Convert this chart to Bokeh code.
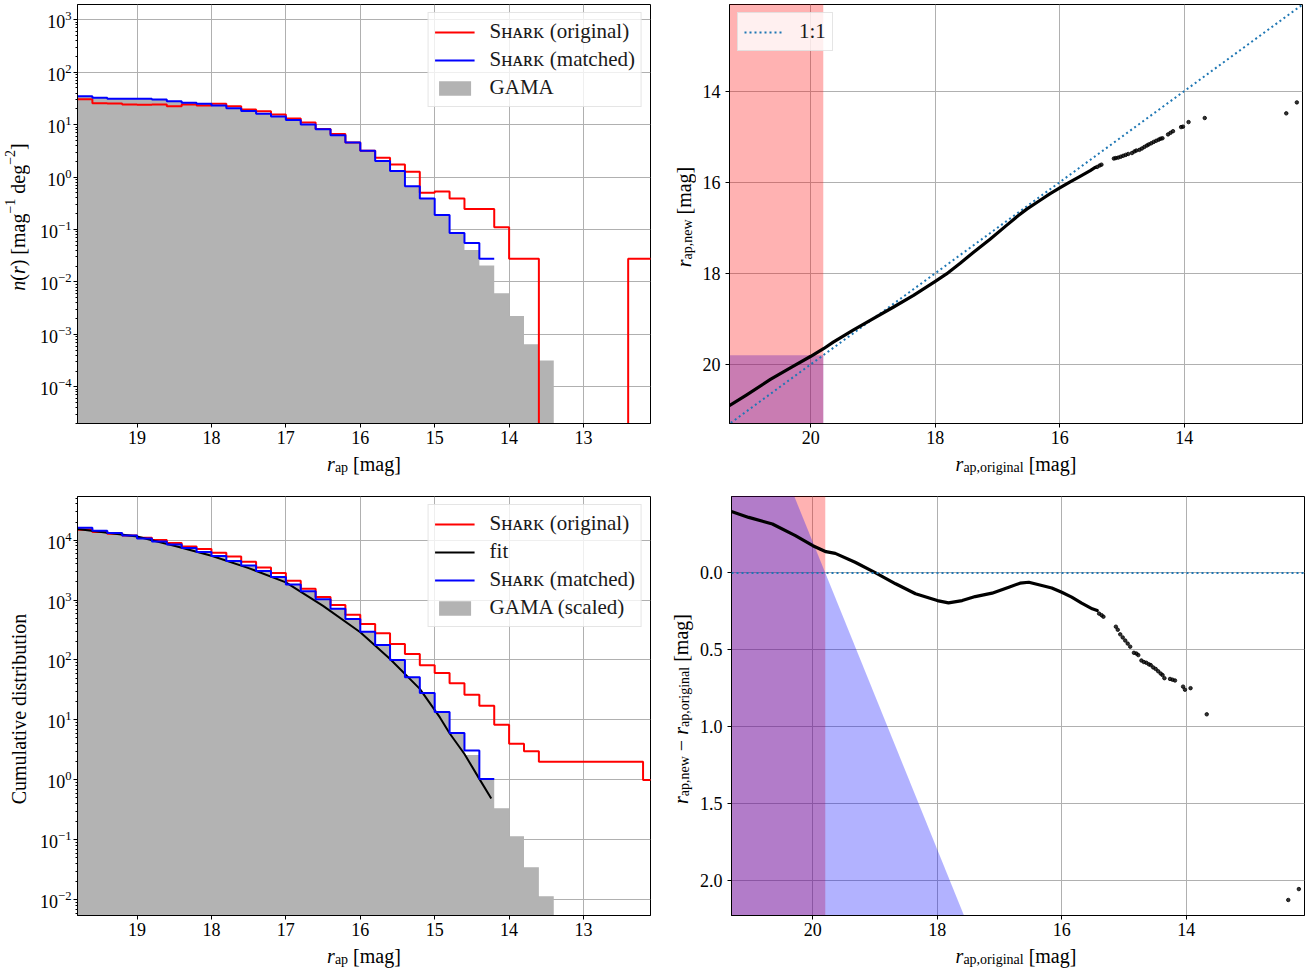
import numpy as np
from bokeh.plotting import figure
from bokeh.layouts import column, row
from bokeh.models import Range1d, FixedTicker, Label, Legend, LegendItem, NumeralTickFormatter, Span
from bokeh.embed import file_html
from bokeh.resources import INLINE

FONT = "Liberation Serif"

# ------------------------------------------------------------------ data
faint_edge = 19.8      # faint edge of first 0.2-mag bin
bin_width = 0.2
mag_limit = 19.8       # GAMA r-band limit (shaded regions)

# differential number counts n(r) [mag^-1 deg^-2], bins 19.8->19.6, 19.6->19.4, ...
shark_original_n = [30.6, 25.7, 25.3, 24.2, 23.9, 24.2, 22.5, 24.2, 23.2, 24.9,
                    22.5, 19.4, 18.1, 15.6, 13.1, 11.0, 8.3, 6.6, 4.58, 3.17,
                    2.34, 1.74, 1.26, 0.50, 0.53, 0.39, 0.245, 0.245, 0.111, 0.0278,
                    0.0278, 0, 0, 0, 0, 0, 0, 0.0278, 0.0278]
shark_matched_n = [34.9, 32.4, 31.0, 31.0, 31.0, 30.2, 28.0, 26.1, 24.9, 23.2,
                   20.6, 18.3, 16.1, 14.3, 12.2, 10.1, 8.2, 6.3, 4.58, 3.17,
                   2.02, 1.30, 0.67, 0.39, 0.19, 0.086, 0.0553, 0.0278]
gama_n = [34.9, 32.4, 31.0, 31.0, 31.0, 30.2, 28.0, 26.1, 24.9, 23.2,
          20.6, 18.3, 16.1, 14.3, 12.2, 10.1, 8.2, 6.3, 4.58, 3.17,
          2.02, 1.30, 0.67, 0.39, 0.19, 0.086, 0.0407, 0.0205, 0.00608, 0.00225,
          0.00065, 0.000318]

# cumulative distributions (same bins)
shark_original_cum = [14860, 13600, 12750, 11960, 10900, 10000, 8910, 7840, 7080, 6150,
                      5340, 4350, 3500, 2820, 2100, 1545, 1122, 826, 570, 398,
                      278, 185, 126, 81.5, 60.7, 40.8, 26.4, 17.3, 8.3, 4,
                      3, 2, 2, 2, 2, 2, 2, 2, 1]
shark_matched_cum = [16060, 14300, 13100, 11960, 10660, 9500, 8470, 7360, 6310, 5410,
                     4470, 3780, 3042, 2417, 1823, 1395, 1026, 717, 482, 297,
                     178, 100, 51.4, 28.2, 13.6, 6.07, 3.08, 1.03]
gama_scaled_cum = [16060, 14300, 13100, 11960, 10660, 9500, 8470, 7360, 6310, 5410,
                   4470, 3780, 3042, 2417, 1823, 1395, 1026, 717, 482, 297,
                   178, 100, 51.4, 28.2, 13.6, 6.07, 2.6, 1.07, 0.337, 0.115,
                   0.035, 0.0115]
fit_mag = [19.8, 19.4, 19.0, 18.5, 18.0, 17.5, 17.0, 16.5, 16.0, 15.6, 15.2, 14.93, 14.8, 14.6, 14.4, 14.24]
fit_cum = [15250, 13250, 11500, 8050, 5480, 3410, 1970, 800, 290, 104, 33, 11.0, 6.0, 2.7, 1.04, 0.49]

# magnitude mapping: r_ap,original and r_ap,new - r_ap,original
r_orig_dense = [21.31, 21.03, 20.65, 20.28, 20.0, 19.79, 19.64, 19.32, 18.99, 18.67,
                18.35, 18.0, 17.82, 17.6, 17.39, 17.12, 16.85, 16.67, 16.53, 16.32,
                16.16, 16.0, 15.84, 15.68, 15.51, 15.43]
dr_dense = [-0.40, -0.361, -0.318, -0.242, -0.177, -0.138, -0.127, -0.069, 0.0, 0.071,
            0.136, 0.18, 0.195, 0.18, 0.154, 0.132, 0.093, 0.067, 0.061, 0.082,
            0.098, 0.126, 0.158, 0.197, 0.234, 0.245]
r_orig_sparse = [15.40, 15.36, 15.33, 15.13, 15.10, 15.06, 15.02, 14.98, 14.94, 14.90,
                 14.84, 14.80, 14.77, 14.72, 14.68, 14.64, 14.60, 14.57, 14.53, 14.49,
                 14.45, 14.41, 14.38, 14.35, 14.26, 14.22, 14.18, 14.05, 14.02, 13.93,
                 13.67, 12.36, 12.19]
dr_sparse = [0.265, 0.275, 0.285, 0.35, 0.37, 0.40, 0.42, 0.44, 0.46, 0.48,
             0.52, 0.525, 0.535, 0.57, 0.58, 0.585, 0.595, 0.60, 0.615, 0.625,
             0.64, 0.655, 0.665, 0.685, 0.69, 0.695, 0.70, 0.74, 0.76, 0.75,
             0.92, 2.128, 2.057]

xticks_left = [13, 14, 15, 16, 17, 18, 19]
xticks_right = [14, 16, 18, 20]
yticks_tr = [14, 16, 18, 20]
yticks_br = [0.0, 0.5, 1.0, 1.5, 2.0]

# ------------------------------------------------------------------ helpers
FLOOR = 1e-9
BASE_SHIFT = 6    # Bokeh draws the label baseline this far below its anchor
VSHIFT = -31      # rotated labels are drawn this far further along the text


def edges_for(n):
    return [round(faint_edge - bin_width * i, 2) for i in range(n + 1)]


def step_xy(vals):
    e = edges_for(len(vals))
    xs, ys = [], []
    for i, v in enumerate(vals):
        v = v if v > 0 else FLOOR
        xs += [e[i], e[i + 1]]
        ys += [v, v]
    return xs, ys


def step_area(vals):
    xs, ys = step_xy(vals)
    return [xs[0]] + xs + [xs[-1]], [FLOOR] + ys + [FLOOR]


CW = {' ': 0.25, '(': 0.333, ')': 0.333, '[': 0.333, ']': 0.333, ',': 0.25, '−': 0.564,
      'a': 0.444, 'b': 0.5, 'c': 0.444, 'd': 0.5, 'e': 0.444, 'g': 0.5, 'i': 0.278,
      'l': 0.278, 'm': 0.778, 'n': 0.5, 'o': 0.5, 'p': 0.5, 'r': 0.333, 's': 0.389,
      't': 0.278, 'u': 0.5, 'v': 0.5, 'w': 0.722, 'C': 0.667, '1': 0.5, '2': 0.5}
CW_IT = {'r': 0.389, 'n': 0.5}


def tw(t, size, it=False):
    return sum((CW_IT.get(c, CW.get(c, 0.5)) if it else CW.get(c, 0.5)) for c in t) * size


def mk_label(t, s, it, x, y, angle=0.0):
    return Label(x=x, y=y, x_units="screen", y_units="screen", text=t, angle=angle,
                 text_font=FONT, text_font_size=f"{s}px",
                 text_font_style="italic" if it else "normal",
                 text_align="left", text_baseline="alphabetic", text_color="black")


def split_spaces(t):
    core = t.strip(" ")
    lead = len(t) - len(t.lstrip(" "))
    return lead, core


def hlabel(p, pieces, cx, base):
    x = cx - sum(tw(t, s, i) for t, s, i, d in pieces) / 2
    for t, s, i, d in pieces:
        lead, core = split_spaces(t)
        p.add_layout(mk_label(core, s, i, x + tw(" " * lead, s), base + BASE_SHIFT + d))
        x += tw(t, s, i)


def vlabel(p, pieces, cy, base):
    y = cy - sum(tw(t, s, i) for t, s, i, d in pieces) / 2 + VSHIFT
    for t, s, i, d in pieces:
        lead, core = split_spaces(t)
        p.add_layout(mk_label(core, s, i, base - BASE_SHIFT - d, y + tw(" " * lead, s),
                              angle=np.pi / 2))
        y += tw(t, s, i)


def strip(w, h):
    s = figure(width=w, height=h, x_range=Range1d(0, w), y_range=Range1d(0, h),
               x_axis_type=None, y_axis_type=None, toolbar_location=None, title=None,
               output_backend="svg", min_border=0)
    s.outline_line_color = None
    s.background_fill_color = "white"
    s.border_fill_color = "white"
    return s


def base_fig(xr, yr, log, bl, br, bt, bb):
    p = figure(frame_width=573, frame_height=419, x_range=xr, y_range=yr,
               y_axis_type="log" if log else "linear", output_backend="svg",
               toolbar_location=None, title=None,
               min_border_left=bl, min_border_right=br, min_border_top=bt, min_border_bottom=bb)
    p.outline_line_color = "black"
    p.outline_line_width = 1
    p.outline_line_alpha = 1
    p.background_fill_color = "white"
    p.border_fill_color = "white"
    p.grid.grid_line_color = "#b0b0b0"
    p.grid.grid_line_width = 1
    for ax in (p.xaxis[0], p.yaxis[0]):
        ax.major_label_text_font = FONT
        ax.major_label_text_font_size = "18px"
        ax.major_label_text_color = "black"
        ax.axis_line_color = "black"
        ax.major_tick_line_color = "black"
        ax.minor_tick_line_color = "black"
        ax.major_tick_in = 0
        ax.major_tick_out = 4
        ax.minor_tick_in = 0
        ax.minor_tick_out = 0
    p.xaxis[0].major_label_standoff = 3
    return p


def log_ticker(kmin, kmax):
    major = [10.0 ** k for k in range(kmin, kmax + 1)]
    minor = [m * 10.0 ** k for k in range(kmin - 1, kmax + 1) for m in range(2, 10)]
    return FixedTicker(ticks=major, minor_ticks=minor)


def style_legend(lg, loc):
    lg.location = loc
    lg.label_text_font = FONT
    lg.label_text_font_size = "21px"
    lg.label_text_color = "#1a1a1a"
    lg.glyph_width = 40
    lg.glyph_height = 18
    lg.label_height = 18
    lg.label_standoff = 15
    lg.spacing = 3
    lg.padding = 6
    lg.margin = 8
    lg.border_line_color = "#cccccc"
    lg.border_line_width = 1
    lg.background_fill_color = "white"
    lg.background_fill_alpha = 0.8


SHARK_ORIG = "Sʜᴀʀᴋ (original)"
SHARK_MATCH = "Sʜᴀʀᴋ (matched)"

# layout geometry (pixels)
LEFT_STRIP_W = 30
MID_STRIP_W = 45
TOP_ROW_H = 4 + 419 + 28
BOT_ROW_H = 8 + 419 + 28

# ------------------------------------------------------------------ top-left: n(r)
p1 = base_fig(Range1d(19.8, 12.1), Range1d(2.0e-5, 1954), True, 47, 1, 4, 28)
tk = log_ticker(-4, 3)
p1.yaxis[0].ticker = tk
p1.ygrid[0].ticker = tk
p1.yaxis[0].minor_tick_out = 2
p1.yaxis[0].major_label_standoff = 2
p1.xaxis[0].ticker = FixedTicker(ticks=xticks_left)
p1.xgrid[0].ticker = FixedTicker(ticks=xticks_left)

ax_, ay_ = step_area(gama_n)
g1 = p1.patch(ax_, ay_, fill_color="#b3b3b3", line_color=None)
xs, ys = step_xy(shark_original_n)
r1 = p1.line(xs, ys, line_color="red", line_width=2)
xs, ys = step_xy(shark_matched_n)
b1 = p1.line(xs, ys, line_color="blue", line_width=2)
lg1 = Legend(items=[LegendItem(label=SHARK_ORIG, renderers=[r1]),
                    LegendItem(label=SHARK_MATCH, renderers=[b1]),
                    LegendItem(label="GAMA", renderers=[g1])])
style_legend(lg1, "top_right")
p1.add_layout(lg1)

# ------------------------------------------------------------------ bottom-left: cumulative
p3 = base_fig(Range1d(19.8, 12.1), Range1d(0.00547, 53300), True, 47, 1, 8, 28)
tk3 = log_ticker(-2, 4)
p3.yaxis[0].ticker = tk3
p3.ygrid[0].ticker = tk3
p3.yaxis[0].minor_tick_out = 2
p3.yaxis[0].major_label_standoff = 2
p3.xaxis[0].ticker = FixedTicker(ticks=xticks_left)
p3.xgrid[0].ticker = FixedTicker(ticks=xticks_left)

ax_, ay_ = step_area(gama_scaled_cum)
g3 = p3.patch(ax_, ay_, fill_color="#b3b3b3", line_color=None)
xs, ys = step_xy(shark_original_cum)
r3 = p3.line(xs, ys, line_color="red", line_width=2)
f3 = p3.line(fit_mag, fit_cum, line_color="black", line_width=2)
xs, ys = step_xy(shark_matched_cum)
b3 = p3.line(xs, ys, line_color="blue", line_width=2)
lg3 = Legend(items=[LegendItem(label=SHARK_ORIG, renderers=[r3]),
                    LegendItem(label="fit", renderers=[f3]),
                    LegendItem(label=SHARK_MATCH, renderers=[b3]),
                    LegendItem(label="GAMA (scaled)", renderers=[g3])])
style_legend(lg3, "top_right")
p3.add_layout(lg3)

# ------------------------------------------------------------------ mapping data
r_orig_d = np.array(r_orig_dense)
r_new_d = r_orig_d + np.array(dr_dense)
r_orig_s = np.array(r_orig_sparse)
r_new_s = r_orig_s + np.array(dr_sparse)
one_to_one = [22.0, 11.5]

# ------------------------------------------------------------------ top-right
p2 = base_fig(Range1d(21.307, 12.099), Range1d(21.30, 12.097), False, 33, 10, 4, 28)
p2.xaxis[0].ticker = FixedTicker(ticks=xticks_right)
p2.xgrid[0].ticker = FixedTicker(ticks=xticks_right)
p2.yaxis[0].ticker = FixedTicker(ticks=yticks_tr)
p2.ygrid[0].ticker = FixedTicker(ticks=yticks_tr)
p2.yaxis[0].major_label_standoff = 5
p2.quad(left=[mag_limit], right=[23.0], bottom=[mag_limit], top=[24.0],
        fill_color="blue", fill_alpha=0.3, line_color=None)
p2.quad(left=[mag_limit], right=[23.0], bottom=[10.0], top=[24.0],
        fill_color="red", fill_alpha=0.3, line_color=None)
l2 = p2.line(one_to_one, one_to_one, line_color="#1f77b4", line_width=2, line_dash="2 3")
p2.line(r_orig_d, r_new_d, line_color="black", line_width=3.2, line_join="round", line_cap="round")
p2.scatter(r_orig_s, r_new_s, size=3.5, color="black", alpha=0.8)
lg2 = Legend(items=[LegendItem(label="1:1", renderers=[l2])])
style_legend(lg2, "top_left")
p2.add_layout(lg2)

# ------------------------------------------------------------------ bottom-right
p4 = base_fig(Range1d(21.307, 12.099), Range1d(2.229, -0.497), False, 33, 10, 8, 28)
p4.xaxis[0].ticker = FixedTicker(ticks=xticks_right)
p4.xgrid[0].ticker = FixedTicker(ticks=xticks_right)
p4.yaxis[0].ticker = FixedTicker(ticks=yticks_br)
p4.ygrid[0].ticker = FixedTicker(ticks=yticks_br)
p4.yaxis[0].formatter = NumeralTickFormatter(format="0.0")
p4.yaxis[0].major_label_standoff = 5
p4.quad(left=[mag_limit], right=[23.0], bottom=[-2.0], top=[4.0],
        fill_color="red", fill_alpha=0.3, line_color=None)
x_far = 23.0
y_far = 4.0
p4.patch([x_far, x_far, mag_limit - y_far], [mag_limit - x_far, y_far, y_far],
         fill_color="blue", fill_alpha=0.3, line_color=None)
p4.add_layout(Span(location=0.0, dimension="width", line_color="#1f77b4",
                   line_width=2, line_dash="2 3"))
p4.line(r_orig_d, dr_dense, line_color="black", line_width=3.2, line_join="round", line_cap="round")
p4.scatter(r_orig_s, dr_sparse, size=3.5, color="black", alpha=0.8)

# ------------------------------------------------------------------ axis-label strips
ylab1 = strip(LEFT_STRIP_W, TOP_ROW_H)
vlabel(ylab1, [("n", 20, True, 0), ("(", 20, False, 0), ("r", 20, True, 0), (")", 20, False, 0),
               (" [mag", 20, False, 0), ("−1", 14, False, 8), (" deg", 20, False, 0),
               ("−2", 14, False, 8), ("]", 20, False, 0)], TOP_ROW_H - 213.5, 23.5)
ylab2 = strip(MID_STRIP_W, TOP_ROW_H)
vlabel(ylab2, [("r", 20, True, 0), ("ap,new", 14, False, -4), (" [mag]", 20, False, 0)],
       TOP_ROW_H - 213.5, 38)
ylab3 = strip(LEFT_STRIP_W, BOT_ROW_H)
vlabel(ylab3, [("Cumulative distribution", 20, False, 0)], BOT_ROW_H - 217.5, 24)
ylab4 = strip(MID_STRIP_W, BOT_ROW_H)
vlabel(ylab4, [("r", 20, True, 0), ("ap,new", 14, False, -4), (" − ", 20, False, 0),
               ("r", 20, True, 0), ("ap,original", 14, False, -4), (" [mag]", 20, False, 0)],
       BOT_ROW_H - 217.5, 35)

XLAB_TOP_H = 488 - TOP_ROW_H
XLAB_BOT_H = 970 - 488 - BOT_ROW_H
xlab1 = strip(651, XLAB_TOP_H)
hlabel(xlab1, [("r", 20, True, 0), ("ap", 14, False, -4), (" [mag]", 20, False, 0)], 363.5, 19)
xlab2 = strip(661, XLAB_TOP_H)
hlabel(xlab2, [("r", 20, True, 0), ("ap,original", 14, False, -4), (" [mag]", 20, False, 0)], 364.5, 19)
xlab3 = strip(651, XLAB_BOT_H)
hlabel(xlab3, [("r", 20, True, 0), ("ap", 14, False, -4), (" [mag]", 20, False, 0)], 363.5, 9)
xlab4 = strip(661, XLAB_BOT_H)
hlabel(xlab4, [("r", 20, True, 0), ("ap,original", 14, False, -4), (" [mag]", 20, False, 0)], 364.5, 9)

layout = column(row(ylab1, p1, ylab2, p2),
                row(xlab1, xlab2),
                row(ylab3, p3, ylab4, p4),
                row(xlab3, xlab4))
open("out.html", "w").write(file_html(layout, INLINE))
